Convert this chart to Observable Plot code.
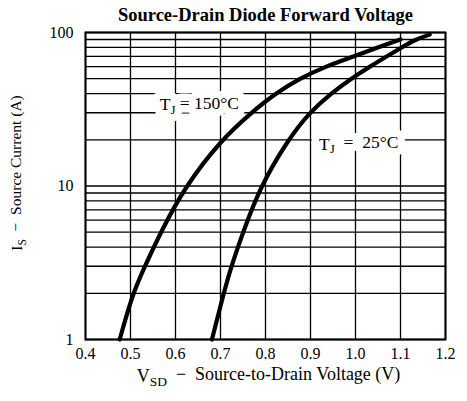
<!DOCTYPE html>
<html>
<head>
<meta charset="utf-8">
<script src="https://cdn.jsdelivr.net/npm/d3@7"></script>
<script src="https://cdn.jsdelivr.net/npm/@observablehq/plot@0.6"></script>
<style>
  body { margin: 0; background: #fff; }
  svg text { font-family: "Liberation Serif", "DejaVu Serif", serif; }
</style>
</head>
<body>
<div id="chart"></div>
<script>
// Source-drain voltage (V) and source current (A)
const v150 = [0.476, 0.505, 0.532, 0.567, 0.622, 0.702, 0.768, 0.822, 0.875, 0.933, 0.997, 1.050, 1.100];
const i150 = [1, 2, 3, 5, 10, 20, 30, 40, 50, 60, 70, 80, 90];
const v25 = [0.681, 0.707, 0.724, 0.750, 0.789, 0.850, 0.897, 0.945, 0.990, 1.032, 1.070, 1.103, 1.133, 1.165];
const i25 = [1, 2, 3, 5, 10, 20, 30, 40, 50, 60, 70, 80, 90, 97];

const xTicks = [0.4, 0.5, 0.6, 0.7, 0.8, 0.9, 1.0, 1.1, 1.2];
const yTicks = [1, 10, 100];
const yGrid = [1, 2, 3, 4, 5, 6, 7, 8, 9, 10, 20, 30, 40, 50, 60, 70, 80, 90, 100];

const labelText = ["TJ = 150°C", "TJ  =  25°C"];
const labelV = [0.653, 1.007];
const labelI = [34, 18.8];

const titleText = "Source-Drain Diode Forward Voltage";
const xLabelText = "VSD  \u2212  Source-to-Drain Voltage (V)";
const yLabelText = "IS  \u2212  Source Current (A)";

const curve150 = v150.map((v, k) => ({v, i: i150[k]}));
const curve25 = v25.map((v, k) => ({v, i: i25[k]}));
const labels = labelText.map((t, k) => ({t, v: labelV[k], i: labelI[k]}));

const chart = Plot.plot({
  width: 467,
  height: 401,
  marginTop: 32,
  marginBottom: 62,
  marginLeft: 85,
  marginRight: 22,
  style: {fontFamily: "Liberation Serif", fontSize: "16px", color: "#000", background: "#fff", overflow: "visible"},
  x: {domain: [0.4, 1.2], label: null},
  y: {type: "log", domain: [1, 100], label: null},
  marks: [
    Plot.ruleY(yGrid, {stroke: "#000", strokeWidth: 1.3}),
    Plot.ruleX(xTicks, {stroke: "#000", strokeWidth: 1.3}),
    // white box-like halo behind labels (interrupts the grid like the original)
    Plot.text(labels, {x: "v", y: "i", text: "t", fill: "#fff", stroke: "#fff", strokeWidth: 15, fontSize: 17.5, ariaHidden: "true"}),
    Plot.text(labels, {x: "v", y: "i", text: "t", fill: "#000", fontSize: 17.5}),
    Plot.line(curve150, {x: "v", y: "i", curve: "basis", stroke: "#000", strokeWidth: 4.2}),
    Plot.line(curve25, {x: "v", y: "i", curve: "basis", stroke: "#000", strokeWidth: 4.2}),
    Plot.frame({stroke: "#000", strokeWidth: 2}),
    Plot.axisX({ticks: xTicks, tickFormat: ".1f", tickSize: 0, tickPadding: 8, fontSize: 16, label: null}),
    Plot.axisY({ticks: yTicks, tickFormat: d => String(d), tickSize: 0, tickPadding: 12, fontSize: 16, label: null}),
    Plot.text([titleText], {frameAnchor: "top", lineAnchor: "middle", dy: -17, fontWeight: "bold", fontSize: 18.5, fill: "#000"}),
    Plot.text([xLabelText], {frameAnchor: "bottom", dx: 3, dy: 42, fontSize: 18, fill: "#000"}),
    Plot.text([yLabelText], {frameAnchor: "left", textAnchor: "middle", dx: -68, dy: -13, rotate: -90, fontSize: 15.5, fill: "#000"})
  ]
});

// add subscripts as real text tspans
d3.select(chart).selectAll("text").each(function() {
  const el = d3.select(this);
  if (el.selectAll("tspan").size() > 0) return;
  const s = el.text();
  let base = null, sub = null, rest = null;
  if (s.startsWith("TJ")) { base = "T"; sub = "J"; rest = s.slice(2); }
  else if (s.startsWith("VSD")) { base = "V"; sub = "SD"; rest = s.slice(3); }
  else if (s.startsWith("IS")) { base = "I"; sub = "S"; rest = s.slice(2); }
  if (base === null) return;
  el.text(null);
  el.append("tspan").text(base);
  el.append("tspan").attr("font-size", "0.75em").attr("dy", "0.3em").text(sub);
  el.append("tspan").attr("dy", "-0.3em").style("white-space", "pre").text(rest);
  el.style("white-space", "pre");
});

document.getElementById("chart").appendChild(chart);
</script>
</body>
</html>
